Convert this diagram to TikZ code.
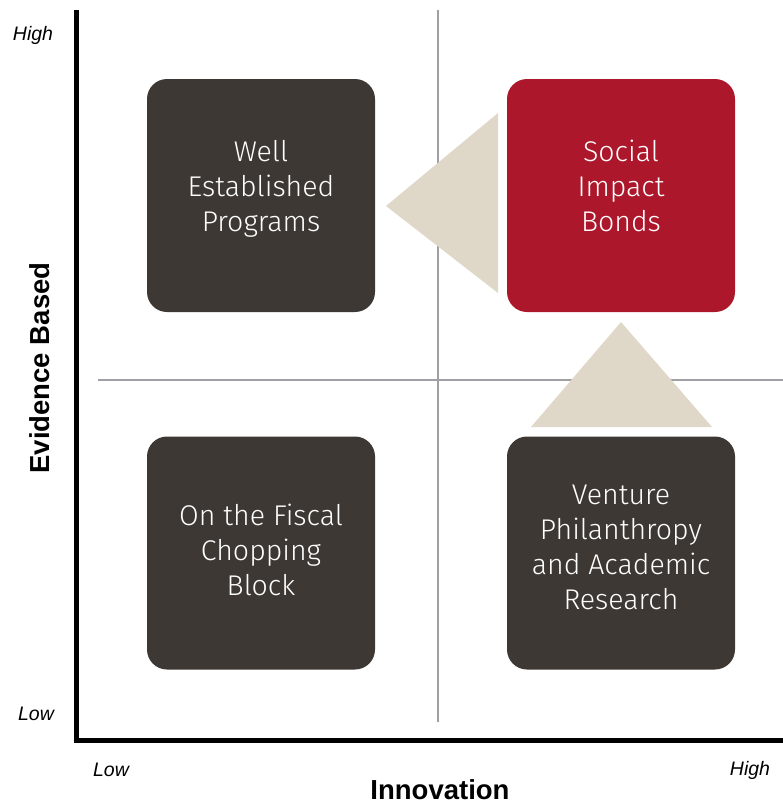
\documentclass[tikz,border=0pt]{standalone}
\usepackage{fontspec}
\setmainfont{Liberation Sans}
\newfontfamily\boxfont{Fira Sans}[UprightFont=* Light]
\definecolor{boxdark}{HTML}{3D3834}
\definecolor{boxred}{HTML}{AD172B}
\definecolor{arrowtan}{HTML}{DFD8C8}
\definecolor{gridgray}{HTML}{A0A0A4}
\tikzset{
  quad/.style={rounded corners=20pt, minimum width=228pt, minimum height=233pt, inner sep=0pt},
  quadtext/.style={inner sep=0pt, text=white, align=center, font=\boxfont\fontsize{28.5}{35}\selectfont,
    execute at begin node=\strut, execute at end node=\strut},
  levellbl/.style={font=\itshape\fontsize{19.5}{22}\selectfont},
  axislbl/.style={font=\bfseries\fontsize{27.5}{30}\selectfont},
}
\begin{document}
\begin{tikzpicture}[x=1pt,y=-1pt]
\useasboundingbox (0,0) rectangle (783,809);
% quadrant lines
\draw[gridgray, line width=1.2pt] (438,10)--(438,722);
\draw[gridgray, line width=1.2pt] (98,380)--(783,380);
% axes
\draw[line width=5pt] (76.5,10)--(76.5,740.5)--(783,740.5);
\node[levellbl] (yhigh) at (33,35) {High};
\node[levellbl] (ylow) at (36,714) {Low};
\node[levellbl] (xlow) at (111,770) {Low};
\node[levellbl] (xhigh) at (750,770) {High};
\node[axislbl, rotate=90] (ylbl) at (40,368) {Evidence Based};
\node[axislbl] (xlbl) at (440,790) {Innovation};
% boxes
\node[quad, fill=boxdark] (wep) at (261,195.5) {};
\node[quad, fill=boxred] (sib) at (621,195.5) {};
\node[quad, fill=boxdark] (fcb) at (261,553) {};
\node[quad, fill=boxdark] (vpar) at (621,553) {};
\node[quadtext] (weptext) at ([yshift=4.5pt]wep.center) {Well\\Established\\Programs};
\node[quadtext] (sibtext) at ([yshift=4.5pt]sib.center) {Social\\Impact\\Bonds};
\node[quadtext] (fcbtext) at ([yshift=-2.5pt]fcb.center) {On the Fiscal\\Chopping\\Block};
\node[quadtext] (vpartext) at ([yshift=1pt]vpar.center) {Venture\\Philanthropy\\and Academic\\Research};
% arrows
\fill[arrowtan] (386,206)--(498,113)--(498,293)--cycle;
\fill[arrowtan] (621,322)--(531,427)--(712,427)--cycle;
\end{tikzpicture}
\end{document}
